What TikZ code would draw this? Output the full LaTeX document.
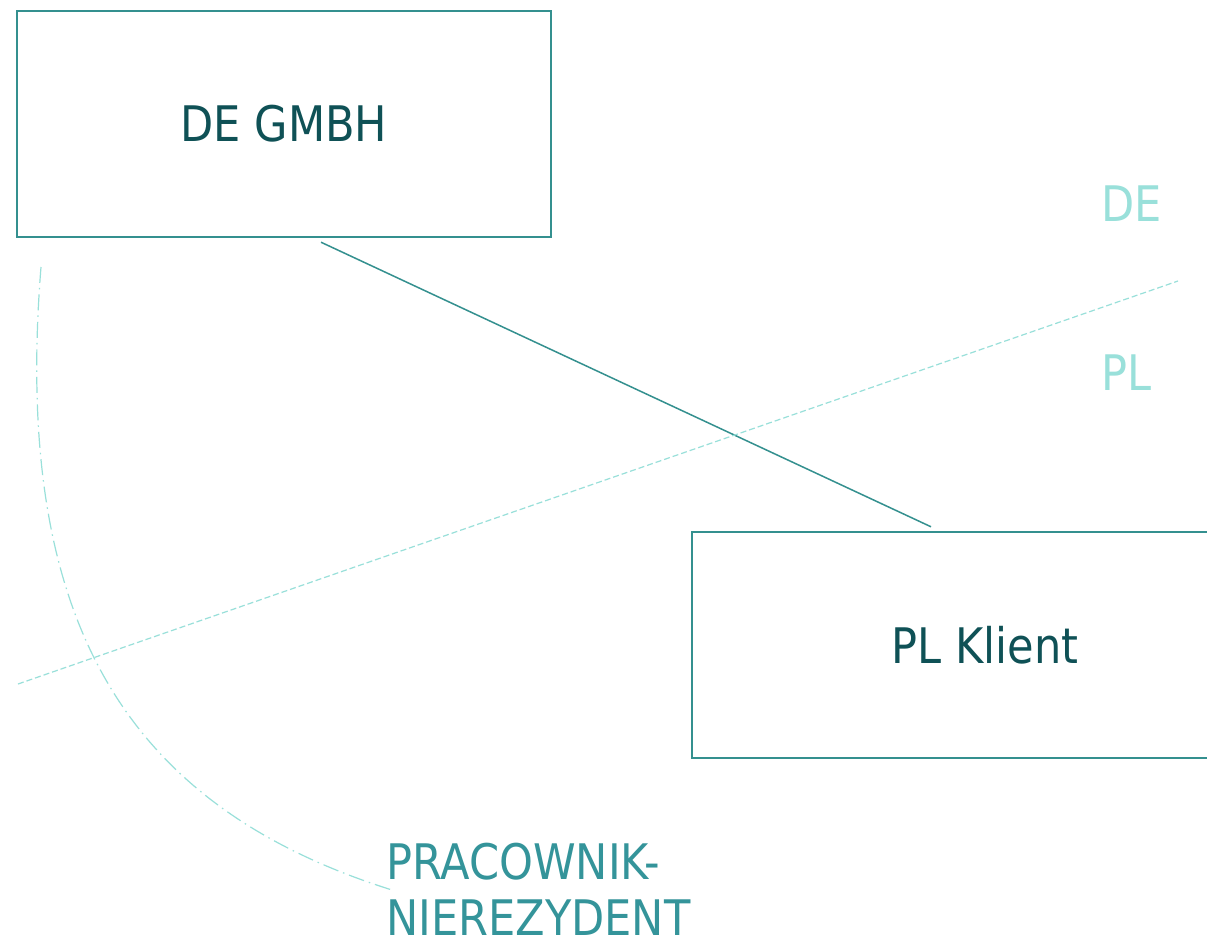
\documentclass[tikz,border=0pt]{standalone}
\usepackage{fontspec}
\setmainfont{DejaVu Sans}[FakeStretch=0.88]
\definecolor{boxline}{HTML}{34908F}
\definecolor{boxtext}{HTML}{0F5156}
\definecolor{midteal}{HTML}{34949A}
\definecolor{lightteal}{HTML}{99E0DA}
\begin{document}
\begin{tikzpicture}[x=1pt,y=-1pt,
  entity/.style={draw=boxline,line width=2.5pt,text=boxtext,font=\fontsize{49}{56}\selectfont,inner sep=0pt},
  regionlabel/.style={text=lightteal,font=\fontsize{49}{56}\selectfont,anchor=base west,inner sep=0pt},
  worker/.style={text=midteal,font=\fontsize{49}{56}\selectfont,anchor=base west,inner sep=0pt},
  link/.style={draw=boxline,line width=1.5pt},
  border/.style={draw=lightteal,line width=1.2pt,dash pattern=on 6pt off 3pt},
  reach/.style={draw=lightteal,line width=1.2pt,dash pattern=on 16pt off 5pt on 1.5pt off 5pt}]
\useasboundingbox (0,0) rectangle (1207,936);
\clip (0,0) rectangle (1207,936);
\fill[white] (0,0) rectangle (1207,936);
\node[entity,minimum width=534pt,minimum height=226pt] (de) at (284,124) {DE GMBH};
\node[entity,minimum width=586pt,minimum height=226pt] (pl) at (985,645) {PL Klient};
\node[regionlabel] (delab) at (1101,222) {DE};
\node[regionlabel] (pllab) at (1101,390) {PL};
\node[worker] (prac1) at (386,879) {PRACOWNIK-};
\node[worker] (prac2) at (386,935) {NIEREZYDENT};
\coordinate (bw) at (18,684);
\coordinate (be) at (1178,281);
\coordinate (arcstart) at (41,267);
\coordinate (arcend) at (392,890);
\draw[link,shorten <=9.4pt,shorten >=9.4pt] ([xshift=28.5pt]de.south) -- ([xshift=-45.5pt]pl.north);
\draw[border] (bw) -- (be);
\draw[reach] (arcstart) .. controls (13,617) and (122,805) .. (arcend);
\end{tikzpicture}
\end{document}
